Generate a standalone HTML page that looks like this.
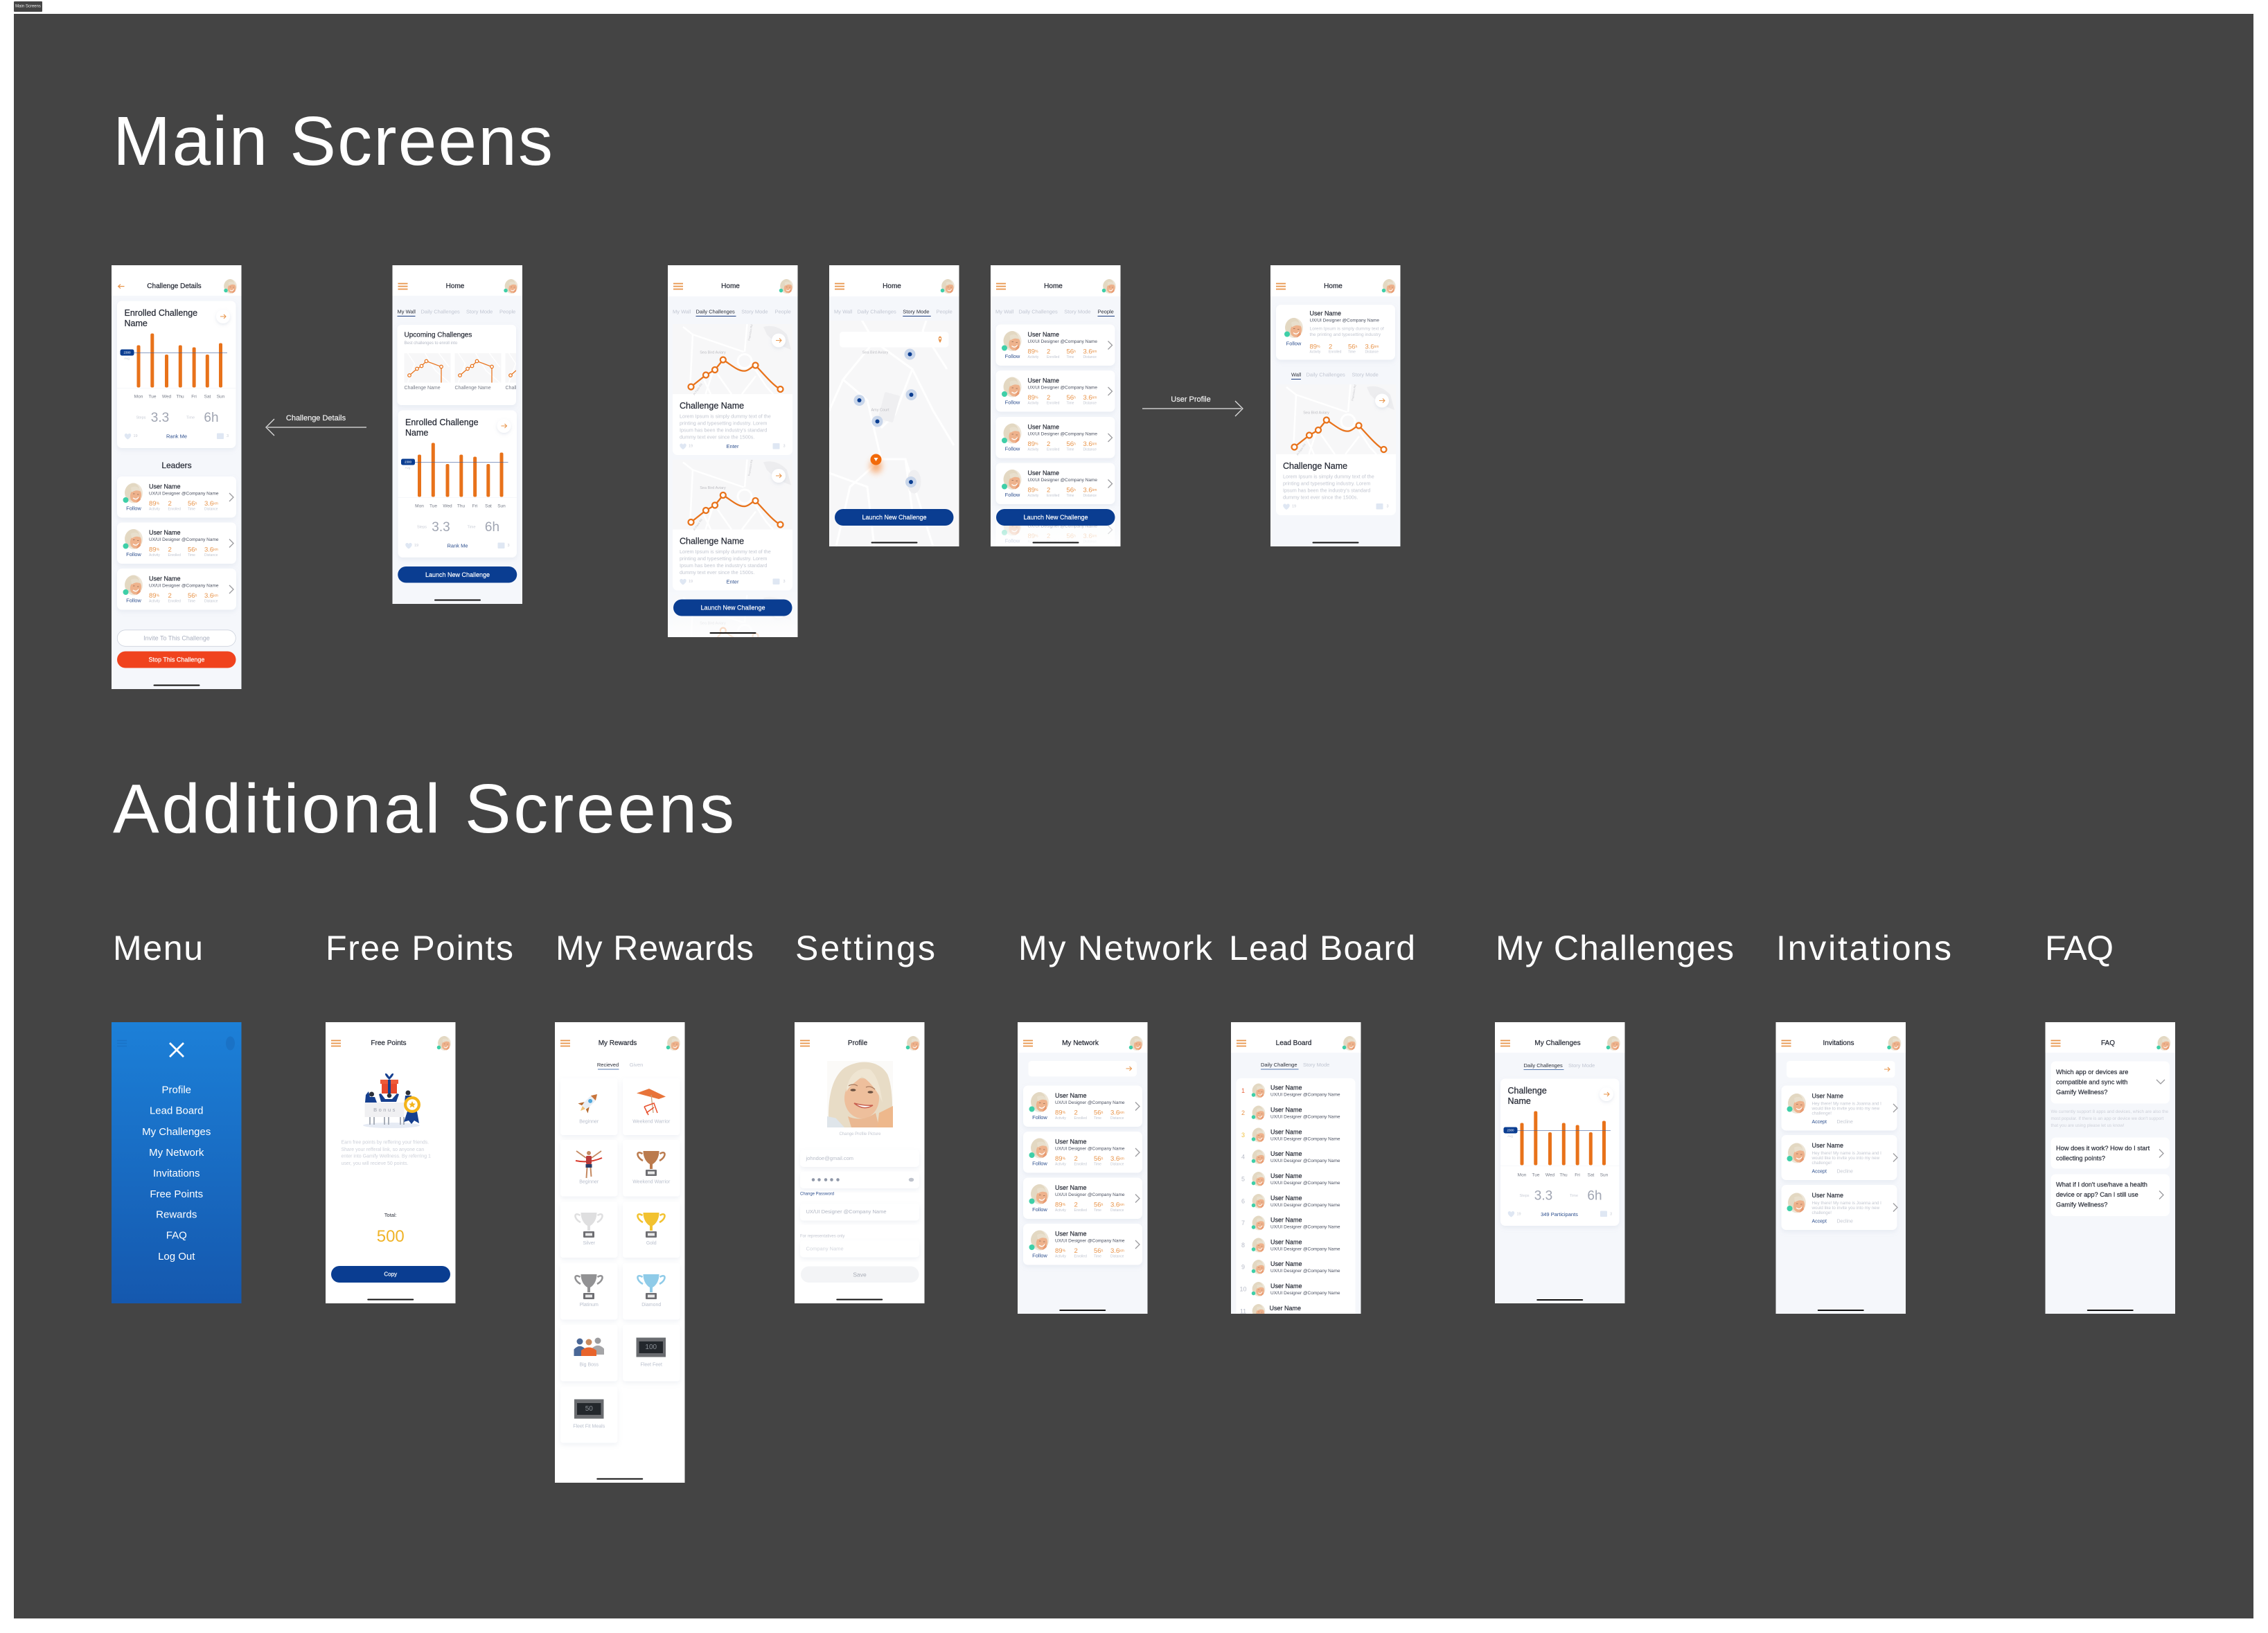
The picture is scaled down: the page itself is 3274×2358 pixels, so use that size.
<!DOCTYPE html>
<html lang="en">
<head>
<meta charset="utf-8">
<title>Main Screens</title>
<style>
html,body{margin:0;padding:0;background:#fff;width:3274px;height:2358px;overflow:hidden}
svg{display:block}
text{font-family:"Liberation Sans",sans-serif;dominant-baseline:central}
.H{fill:#fff;font-size:100px;dominant-baseline:auto}
.H2{fill:#fff;font-size:50px;dominant-baseline:auto}
.m{text-anchor:middle}
.T{font-size:20px;fill:#2b2f3a;text-anchor:middle;stroke:#2b2f3a;stroke-width:.5px}
.t{font-size:15px;fill:#c1c6d2}
.ta{font-size:15px;fill:#2b2f3a}
.n{font-size:18px;fill:#2b2f3a;stroke:#2b2f3a;stroke-width:.45px}
.d{font-size:13px;fill:#4a5060}
.o{font-size:19px;fill:#e8944a}
.u{font-size:10px}
.l{font-size:10px;fill:#c0c5d0}
.f{font-size:15px;fill:#2d4f8e;text-anchor:middle}
.ct{font-size:25px;fill:#2b2f3a;stroke:#2b2f3a;stroke-width:.55px}
.day{font-size:13px;fill:#777c88;text-anchor:middle}
.sm{font-size:11px;fill:#c8ccd6;text-anchor:middle}
.big{font-size:38px;fill:#a0a5b2;text-anchor:middle}
.lk{font-size:15px;fill:#2d4f8e;text-anchor:middle}
.lo{font-size:14.5px;fill:#c3c7d1}
.btn{font-size:18px;fill:#fff;text-anchor:middle;stroke:#fff;stroke-width:.35px}
.map{font-size:11px;fill:#bdbdc2;text-anchor:middle}
.rd{font-size:8px;fill:#c6c6ca;text-anchor:middle}
.mn{font-size:30px;fill:#fff;text-anchor:middle}
.rw{font-size:14px;fill:#b9bfcc;text-anchor:middle}
.fq{font-size:18.5px;fill:#2b2f3a;stroke:#2b2f3a;stroke-width:.4px}
.fg{font-size:12.7px;fill:#cdd0d9}
.inv{font-size:12.5px;fill:#c3c7d1}
.lb{font-size:18px;text-anchor:middle}
</style>
</head>
<body>
<svg xmlns="http://www.w3.org/2000/svg" width="3274" height="2358" viewBox="0 0 3274 2358">
<defs>
<filter id="sh" x="-15%" y="-15%" width="130%" height="140%"><feDropShadow dx="0" dy="6" stdDeviation="7" flood-color="#9fabc4" flood-opacity=".16"/></filter>
<filter id="sb" x="-60%" y="-60%" width="220%" height="220%"><feDropShadow dx="0" dy="4" stdDeviation="5" flood-color="#9fabc4" flood-opacity=".25"/></filter>
<filter id="gl" x="-100%" y="-100%" width="300%" height="300%"><feGaussianBlur stdDeviation="9"/></filter>
<linearGradient id="menu" x1="0" y1="0" x2="0" y2="1"><stop offset="0" stop-color="#1c80d8"/><stop offset="1" stop-color="#1558ae"/></linearGradient>
<linearGradient id="fd" x1="0" y1="0" x2="0" y2="1"><stop offset="0" stop-color="#f7f9fc" stop-opacity=".35"/><stop offset="1" stop-color="#fff" stop-opacity=".85"/></linearGradient>
<clipPath id="avc"><ellipse rx="26" ry="29"/></clipPath>
<g id="av"><g clip-path="url(#avc)"><rect x="-28" y="-30" width="56" height="60" fill="#eee6d8"/><ellipse cx="-4" cy="-4" rx="22" ry="26" fill="#e3d8c2"/><ellipse cx="6" cy="7" rx="16" ry="20" fill="#eeb28c" transform="rotate(12 6 7)"/><path d="M-8 -16Q12 -26 22 -4Q8 -12 -6 -2Z" fill="#e8dfcd"/><path d="M-2 14Q7 22 15 11" stroke="#fff" stroke-width="2.600" fill="none"/><path d="M-2 2H3M10 4H15" stroke="#a87a60" stroke-width="1.800"/><path d="M16 10L26 30H6Z" fill="#e89a70"/></g></g>
<g id="dot"><circle r="8" fill="#3ecfa8"/></g>
<g id="hb"><path d="M16 53H44M16 61H44M16 69H44" stroke="#e8944a" stroke-width="3.400"/></g>
<g id="hd"><use href="#hb"/><use href="#av" transform="translate(343,61) scale(.72)"/><circle cx="327" cy="73" r="5.500" fill="#3ecfa8"/></g>
<g id="cv"><path d="M-6 -12L6 0L-6 12" stroke="#9a9a9e" stroke-width="2.600" fill="none"/></g>
<g id="ar"><path d="M-8 0H8M2 -6L8 0L2 6" stroke="#e8944a" stroke-width="2.200" fill="none"/></g>
<g id="ab"><circle r="20" fill="#fff" filter="url(#sb)"/><use href="#ar"/></g>
<g id="ht"><path d="M0 9C-14 0 -10 -9 -4 -8C-2 -8 -1 -6 0 -5C1 -6 2 -8 4 -8C10 -9 14 0 0 9Z" fill="#dfe7f3"/></g>
<g id="cm"><rect x="-10" y="-9" width="20" height="17" rx="2" fill="#dfe7f3"/></g>
<g id="hi"><rect x="-67" y="-2" width="134" height="4" rx="2" fill="#111"/></g>
<g id="uc"><rect width="344" height="119" rx="14" fill="#fff" filter="url(#sh)"/><use href="#av" transform="translate(48,48)"/><use href="#dot" transform="translate(25,68)"/><use href="#cv" transform="translate(330,60)"/></g>
<g id="ec"><rect x="16" y="103" width="343" height="425" rx="14" fill="#fff" filter="url(#sh)"/>
<use href="#ab" transform="translate(322,148)"/>
<g fill="#e8721a"><rect x="73" y="231" width="10" height="122" rx="4"/><rect x="112.600" y="197" width="10" height="156" rx="4"/><rect x="154" y="258" width="10" height="95" rx="4"/><rect x="193.600" y="231" width="10" height="122" rx="4"/><rect x="233.300" y="237" width="10" height="116" rx="4"/><rect x="271.600" y="258" width="10" height="95" rx="4"/><rect x="310" y="225" width="10" height="128" rx="4"/></g>
<rect x="60" y="252.500" width="274" height="1.200" fill="#3f5f9c"/><rect x="25" y="243" width="40" height="18" rx="5" fill="#0a3d91"/>
<rect x="16" y="355" width="343" height="1" fill="#eef0f4"/>
<use href="#ht" transform="translate(47,494)"/><use href="#cm" transform="translate(314,494)"/></g>
<g id="mp"><rect width="346" height="202" fill="#f7f7f8"/><path d="M262 8Q300 -2 330 30L342 74Q300 60 272 30Z" fill="#ededef"/><path d="M30 8L58 30L50 190M58 30L205 80M225 110L270 180L290 202M130 145L170 202M90 160L110 202M215 0L208 80M120 125L95 202M240 150L200 202" stroke="#fff" stroke-width="5" fill="none"/><circle cx="208" cy="107" r="20" fill="none" stroke="#fff" stroke-width="6"/>
<path d="M53 181L96 147L122 132L145.600 103C170 118 190 138 210 135C222 133 228 122 239 119C255 135 290 178 311 188" fill="none" stroke="#e8721a" stroke-width="4.500"/>
<g fill="#fff" stroke="#e8721a" stroke-width="4.500"><circle cx="53" cy="181" r="8"/><circle cx="96" cy="147" r="8"/><circle cx="122" cy="132" r="8"/><circle cx="145.600" cy="103" r="8"/><circle cx="239" cy="119" r="8"/><circle cx="311" cy="188" r="8"/></g>
<use href="#ab" transform="translate(306,47)"/></g>
<g id="mc"><use href="#mp"/><path d="M0 202H346V364A14 14 0 0 1 332 378H14A14 14 0 0 1 0 364Z" fill="#fff"/><use href="#ht" transform="translate(30,353)"/><use href="#cm" transform="translate(299,353)"/></g>
<g id="mm"><rect width="134" height="85" fill="#f7f7f8"/><path d="M10 0L30 30L10 85M60 0L90 50L130 85M100 0L130 40" stroke="#fff" stroke-width="3" fill="none"/><path d="M15 64L37 45L50 37L64 23L107 39V85" fill="none" stroke="#e8721a" stroke-width="2.500"/><g fill="#fff" stroke="#e8721a" stroke-width="2.500"><circle cx="15" cy="64" r="4.500"/><circle cx="37" cy="45" r="4.500"/><circle cx="50" cy="37" r="4.500"/><circle cx="64" cy="23" r="4.500"/><circle cx="107" cy="39" r="4.500"/></g></g>
<g id="tr"><path d="M-25 8C-44 -4 -44 18 -24 28M25 8C44 -4 44 18 24 28" stroke="currentColor" stroke-width="5" fill="none"/><path d="M-23 0H23C23 18 15 32 4 38V52H-4V38C-15 32 -23 18 -23 0Z" fill="currentColor"/><rect x="-16" y="54" width="32" height="18" rx="2" fill="#6e6e72"/><rect x="-10" y="59" width="20" height="8" fill="#e9e9e9"/></g>
<g id="dp"><rect width="85" height="56" fill="#6a6c70"/><rect x="8" y="11" width="69" height="34" fill="#23272c"/></g>
<g id="pn"><circle r="16" fill="#c9d6ea"/><circle r="6" fill="#0a3d91"/></g>
<g id="sf"><rect width="344" height="49" rx="10" fill="#fff" filter="url(#sh)"/></g>
</defs>

<rect x="20" y="20" width="3233" height="2317" fill="#444444"/>
<rect x="20" y="2" width="41" height="15" rx="1" fill="#444444"/>
<text x="40.500" y="9.500" class="m" style="font-size:6px;fill:#eee">Main Screens</text>

<text x="163" y="238" class="H" textLength="635">Main Screens</text>
<text x="163" y="1202" class="H" textLength="897">Additional Screens</text>
<text x="163" y="1386" class="H2" textLength="130">Menu</text>
<text x="470" y="1386" class="H2" textLength="271">Free Points</text>
<text x="802" y="1386" class="H2" textLength="286">My Rewards</text>
<text x="1148" y="1386" class="H2" textLength="202">Settings</text>
<text x="1470" y="1386" class="H2" textLength="280">My Network</text>
<text x="1774" y="1386" class="H2" textLength="269">Lead Board</text>
<text x="2159" y="1386" class="H2" textLength="344">My Challenges</text>
<text x="2564" y="1386" class="H2" textLength="253">Invitations</text>
<text x="2952" y="1386" class="H2" textLength="99">FAQ</text>

<!-- connectors -->
<path d="M386 617H529" stroke="#a8a8a8" stroke-width="2"/><path d="M396 605L384 617L396 629" stroke="#ddd" stroke-width="1.300" fill="none"/>
<text x="456" y="604" class="m" style="font-size:11px;fill:#eee;stroke:#eee;stroke-width:.2px">Challenge Details</text>
<path d="M1649 590H1792" stroke="#a8a8a8" stroke-width="2"/><path d="M1783 579L1794 590L1783 601" stroke="#ddd" stroke-width="1.300" fill="none"/>
<text x="1719" y="577" class="m" style="font-size:11px;fill:#eee;stroke:#eee;stroke-width:.2px">User Profile</text>

<!-- Screen 1: Challenge Details -->
<svg x="161" y="383" width="187.500" height="612" viewBox="0 0 375 1224">
<rect width="375" height="1224" fill="#f5f7fb"/><rect width="375" height="88" fill="#fff"/>
<path d="M30 61H14M20 55L14 61L20 67" transform="translate(4,0) scale(1.1 1)" stroke="#e8944a" stroke-width="2.400" fill="none"/>
<use href="#av" transform="translate(343,61) scale(.72)"/><circle cx="330" cy="73" r="5.500" fill="#3ecfa8"/>
<text x="181" y="61" class="T">Challenge Details</text>
<use href="#ec"/>
<text x="37" y="138" class="ct">Enrolled Challenge</text><text x="37" y="168" class="ct">Name</text>
<text x="45" y="252" style="font-size:9px;fill:#fff" class="m">2300</text><text x="44" y="269" class="sm" style="font-size:9px">Avg</text>
<text x="78" y="380" class="day">Mon</text><text x="118" y="380" class="day">Tue</text><text x="159" y="380" class="day">Wed</text><text x="198" y="380" class="day">Thu</text><text x="238" y="380" class="day">Fri</text><text x="277" y="380" class="day">Sat</text><text x="315" y="380" class="day">Sun</text>
<text x="85" y="441" class="sm">Steps</text><text x="140" y="441" class="big">3.3</text><text x="228" y="441" class="sm">Time</text><text x="288" y="441" class="big">6h</text>
<text x="69" y="494" class="sm">19</text><text x="188" y="494" class="lk">Rank Me</text><text x="335" y="494" class="sm">3</text>
<text x="188" y="578" class="m" style="font-size:24px;fill:#2b2f3a;stroke:#2b2f3a;stroke-width:.5px">Leaders</text>
<g transform="translate(16,610)"><use href="#uc"/><text x="92" y="29" class="n">User Name</text><text x="92" y="50" class="d">UX/UI Designer @Company Name</text><text x="48" y="92" class="f">Follow</text><text x="92" y="79" class="o">89<tspan class="u">%</tspan></text><text x="147" y="79" class="o">2</text><text x="204" y="79" class="o">56<tspan class="u">h</tspan></text><text x="252" y="79" class="o">3.6<tspan class="u">km</tspan></text><text x="92" y="95" class="l">Activity</text><text x="147" y="95" class="l">Enrolled</text><text x="204" y="95" class="l">Time</text><text x="252" y="95" class="l">Distance</text></g>
<g transform="translate(16,743)"><use href="#uc"/><text x="92" y="29" class="n">User Name</text><text x="92" y="50" class="d">UX/UI Designer @Company Name</text><text x="48" y="92" class="f">Follow</text><text x="92" y="79" class="o">89<tspan class="u">%</tspan></text><text x="147" y="79" class="o">2</text><text x="204" y="79" class="o">56<tspan class="u">h</tspan></text><text x="252" y="79" class="o">3.6<tspan class="u">km</tspan></text><text x="92" y="95" class="l">Activity</text><text x="147" y="95" class="l">Enrolled</text><text x="204" y="95" class="l">Time</text><text x="252" y="95" class="l">Distance</text></g>
<g transform="translate(16,876)"><use href="#uc"/><text x="92" y="29" class="n">User Name</text><text x="92" y="50" class="d">UX/UI Designer @Company Name</text><text x="48" y="92" class="f">Follow</text><text x="92" y="79" class="o">89<tspan class="u">%</tspan></text><text x="147" y="79" class="o">2</text><text x="204" y="79" class="o">56<tspan class="u">h</tspan></text><text x="252" y="79" class="o">3.6<tspan class="u">km</tspan></text><text x="92" y="95" class="l">Activity</text><text x="147" y="95" class="l">Enrolled</text><text x="204" y="95" class="l">Time</text><text x="252" y="95" class="l">Distance</text></g>
<rect x="16.500" y="1053.500" width="342" height="47" rx="23.500" fill="#fff" stroke="#c6ccd8" stroke-width="1.400"/>
<text x="188" y="1077" class="m" style="font-size:18px;fill:#aab0c0">Invite To This Challenge</text>
<rect x="16" y="1115" width="343" height="48" rx="24" fill="#f0431e"/>
<text x="188" y="1139" class="btn">Stop This Challenge</text>
<use href="#hi" transform="translate(188,1213)"/>
</svg>

<!-- Screen 2: Home / My Wall -->
<svg x="566.500" y="383" width="187.500" height="489" viewBox="0 0 375 978">
<rect width="375" height="978" fill="#f5f7fb"/><rect width="375" height="88" fill="#fff"/><use href="#hd"/>
<text x="181" y="61" class="T">Home</text>
<text x="14" y="134" class="ta">My Wall</text><text x="82" y="134" class="t">Daily Challenges</text><text x="213" y="134" class="t">Story Mode</text><text x="309" y="134" class="t">People</text>
<rect x="14" y="146" width="52" height="2" fill="#1f3f80"/>
<rect x="14" y="172" width="343" height="232" rx="12" fill="#fff" filter="url(#sh)"/>
<text x="34" y="202" class="n" style="font-size:20px">Upcoming Challenges</text>
<text x="34" y="226" style="font-size:12px;fill:#b5bac6">Best challenges to enroll into</text>
<use href="#mm" transform="translate(34,254)"/><use href="#mm" transform="translate(180,254)"/>
<svg x="326" y="254" width="31" height="85" viewBox="0 0 31 85"><use href="#mm"/></svg>
<text x="34" y="355" style="font-size:14px;fill:#777c88">Challenge Name</text><text x="180" y="355" style="font-size:14px;fill:#777c88">Challenge Name</text>
<svg x="326" y="345" width="31" height="20" viewBox="0 0 31 20"><text x="0" y="10" style="font-size:14px;fill:#777c88">Challenge</text></svg>
<g transform="translate(0,316)"><use href="#ec"/>
<text x="37" y="138" class="ct">Enrolled Challenge</text><text x="37" y="168" class="ct">Name</text>
<text x="45" y="252" style="font-size:9px;fill:#fff" class="m">2300</text><text x="44" y="269" class="sm" style="font-size:9px">Avg</text>
<text x="78" y="380" class="day">Mon</text><text x="118" y="380" class="day">Tue</text><text x="159" y="380" class="day">Wed</text><text x="198" y="380" class="day">Thu</text><text x="238" y="380" class="day">Fri</text><text x="277" y="380" class="day">Sat</text><text x="315" y="380" class="day">Sun</text>
<text x="85" y="441" class="sm">Steps</text><text x="140" y="441" class="big">3.3</text><text x="228" y="441" class="sm">Time</text><text x="288" y="441" class="big">6h</text>
<text x="69" y="494" class="sm">19</text><text x="188" y="494" class="lk">Rank Me</text><text x="335" y="494" class="sm">3</text></g>
<rect x="15.500" y="870" width="344" height="47" rx="23.500" fill="#0a3d91"/>
<text x="188" y="893.500" class="btn">Launch New Challenge</text>
<use href="#hi" transform="translate(188,967)"/>
</svg>

<!-- Screen 3: Daily Challenges -->
<svg x="964" y="383" width="187.500" height="537" viewBox="0 0 375 1074">
<rect width="375" height="1074" fill="#f5f7fb"/><rect width="375" height="90" fill="#fff"/><use href="#hd"/>
<text x="181" y="61" class="T">Home</text>
<text x="14" y="134" class="t">My Wall</text><text x="81" y="134" class="ta">Daily Challenges</text><text x="212.500" y="134" class="t">Story Mode</text><text x="309" y="134" class="t">People</text>
<rect x="81" y="146" width="116" height="2" fill="#1f3f80"/>
<g transform="translate(14,170)"><use href="#mc"/><text x="116" y="83" class="map">Sea Bird Aviary</text><text x="224" y="24" class="rd" transform="rotate(-80 224 24)">Francisco Rd</text><text x="72" y="188" class="rd" transform="rotate(-55 72 188)">Al Pass Rd</text><text x="20" y="236" class="ct">Challenge Name</text><text x="20" y="266" class="lo">Lorem Ipsum is simply dummy text of the</text><text x="20" y="286" class="lo">printing and typesetting industry. Lorem</text><text x="20" y="306" class="lo">Ipsum has been the industry's standard</text><text x="20" y="326" class="lo">dummy text ever since the 1500s.</text><text x="52" y="353" class="sm">19</text><text x="173" y="353" class="lk">Enter</text><text x="322" y="353" class="sm">3</text></g>
<g transform="translate(14,561)"><use href="#mc"/><text x="116" y="83" class="map">Sea Bird Aviary</text><text x="224" y="24" class="rd" transform="rotate(-80 224 24)">Francisco Rd</text><text x="72" y="188" class="rd" transform="rotate(-55 72 188)">Al Pass Rd</text><text x="20" y="236" class="ct">Challenge Name</text><text x="20" y="266" class="lo">Lorem Ipsum is simply dummy text of the</text><text x="20" y="286" class="lo">printing and typesetting industry. Lorem</text><text x="20" y="306" class="lo">Ipsum has been the industry's standard</text><text x="20" y="326" class="lo">dummy text ever since the 1500s.</text><text x="52" y="353" class="sm">19</text><text x="173" y="353" class="lk">Enter</text><text x="322" y="353" class="sm">3</text></g>
<g transform="translate(14,952)"><use href="#mp"/><text x="116" y="83" class="map">Sea Bird Aviary</text></g>
<rect y="945" width="375" height="129" fill="url(#fd)"/>
<rect x="16" y="965" width="343" height="48" rx="24" fill="#0a3d91"/>
<text x="188" y="989" class="btn">Launch New Challenge</text>
<use href="#hi" transform="translate(188,1062)"/>
</svg>

<!-- Screen 4: Story Mode -->
<svg x="1197" y="383" width="187.500" height="406" viewBox="0 0 375 812">
<rect width="375" height="812" fill="#f7f7f8"/>
<path d="M60 100L130 220L40 330L0 420M130 220L240 300L300 420L360 520M40 330L110 390L150 560L60 640L20 812M150 560L220 560L240 710M240 300L190 430L150 470M0 600L110 640L130 812M300 100L270 190L340 300M220 560L300 812" stroke="#fff" stroke-width="6" fill="none"/>
<rect x="150" y="370" width="45" height="80" rx="4" fill="#efeff1" transform="rotate(15 172 410)"/>
<ellipse cx="245" cy="625" rx="20" ry="34" fill="#efeff1"/>
<rect width="375" height="90" fill="#fff"/><rect y="90" width="375" height="70" fill="#f5f7fb"/><use href="#hd"/>
<text x="181" y="61" class="T">Home</text>
<text x="14" y="134" class="t">My Wall</text><text x="81" y="134" class="t">Daily Challenges</text><text x="212.500" y="134" class="ta">Story Mode</text><text x="309" y="134" class="t">People</text>
<rect x="212.500" y="146" width="81" height="2" fill="#1f3f80"/>
<rect x="30" y="192" width="315" height="45" rx="9" fill="#fff"/>
<path d="M320 224C314 216 314 206 320 205C326 206 326 216 320 224Z" fill="#e8944a"/><circle cx="320" cy="212" r="2.500" fill="#fff"/>
<text x="133" y="253" class="map">Sea Bird Aviary</text><text x="147" y="419" class="map">Amy Court</text>
<use href="#pn" transform="translate(233,257)"/><use href="#pn" transform="translate(237,374)"/><use href="#pn" transform="translate(87,390)"/><use href="#pn" transform="translate(139,451)"/><use href="#pn" transform="translate(236,626)"/>
<ellipse cx="135" cy="580" rx="17" ry="20" fill="#f98a3a" opacity=".65" filter="url(#gl)"/>
<circle cx="135" cy="561" r="16" fill="#f26a0a"/><path d="M129 556L141 556L135 566Z" fill="#fff"/>
<rect x="16" y="704" width="343" height="48" rx="24" fill="#0a3d91"/>
<text x="188" y="728" class="btn">Launch New Challenge</text>
<use href="#hi" transform="translate(188,801)"/>
</svg>

<!-- Screen 5: People -->
<svg x="1430" y="383" width="187.500" height="406" viewBox="0 0 375 812">
<rect width="375" height="812" fill="#f5f7fb"/><rect width="375" height="90" fill="#fff"/><use href="#hd"/>
<text x="181" y="61" class="T">Home</text>
<text x="14" y="134" class="t">My Wall</text><text x="81" y="134" class="t">Daily Challenges</text><text x="212.500" y="134" class="t">Story Mode</text><text x="309" y="134" class="ta">People</text>
<rect x="309" y="146" width="49" height="2" fill="#1f3f80"/>
<g transform="translate(15,171)"><use href="#uc"/><text x="92" y="29" class="n">User Name</text><text x="92" y="50" class="d">UX/UI Designer @Company Name</text><text x="48" y="92" class="f">Follow</text><text x="92" y="79" class="o">89<tspan class="u">%</tspan></text><text x="147" y="79" class="o">2</text><text x="204" y="79" class="o">56<tspan class="u">h</tspan></text><text x="252" y="79" class="o">3.6<tspan class="u">km</tspan></text><text x="92" y="95" class="l">Activity</text><text x="147" y="95" class="l">Enrolled</text><text x="204" y="95" class="l">Time</text><text x="252" y="95" class="l">Distance</text></g>
<g transform="translate(15,304)"><use href="#uc"/><text x="92" y="29" class="n">User Name</text><text x="92" y="50" class="d">UX/UI Designer @Company Name</text><text x="48" y="92" class="f">Follow</text><text x="92" y="79" class="o">89<tspan class="u">%</tspan></text><text x="147" y="79" class="o">2</text><text x="204" y="79" class="o">56<tspan class="u">h</tspan></text><text x="252" y="79" class="o">3.6<tspan class="u">km</tspan></text><text x="92" y="95" class="l">Activity</text><text x="147" y="95" class="l">Enrolled</text><text x="204" y="95" class="l">Time</text><text x="252" y="95" class="l">Distance</text></g>
<g transform="translate(15,438)"><use href="#uc"/><text x="92" y="29" class="n">User Name</text><text x="92" y="50" class="d">UX/UI Designer @Company Name</text><text x="48" y="92" class="f">Follow</text><text x="92" y="79" class="o">89<tspan class="u">%</tspan></text><text x="147" y="79" class="o">2</text><text x="204" y="79" class="o">56<tspan class="u">h</tspan></text><text x="252" y="79" class="o">3.6<tspan class="u">km</tspan></text><text x="92" y="95" class="l">Activity</text><text x="147" y="95" class="l">Enrolled</text><text x="204" y="95" class="l">Time</text><text x="252" y="95" class="l">Distance</text></g>
<g transform="translate(15,571)"><use href="#uc"/><text x="92" y="29" class="n">User Name</text><text x="92" y="50" class="d">UX/UI Designer @Company Name</text><text x="48" y="92" class="f">Follow</text><text x="92" y="79" class="o">89<tspan class="u">%</tspan></text><text x="147" y="79" class="o">2</text><text x="204" y="79" class="o">56<tspan class="u">h</tspan></text><text x="252" y="79" class="o">3.6<tspan class="u">km</tspan></text><text x="92" y="95" class="l">Activity</text><text x="147" y="95" class="l">Enrolled</text><text x="204" y="95" class="l">Time</text><text x="252" y="95" class="l">Distance</text></g>
<g transform="translate(15,704)"><use href="#uc"/><text x="92" y="29" class="n">User Name</text><text x="92" y="50" class="d">UX/UI Designer @Company Name</text><text x="48" y="92" class="f">Follow</text><text x="92" y="79" class="o">89<tspan class="u">%</tspan></text><text x="147" y="79" class="o">2</text><text x="204" y="79" class="o">56<tspan class="u">h</tspan></text><text x="252" y="79" class="o">3.6<tspan class="u">km</tspan></text><text x="92" y="95" class="l">Activity</text><text x="147" y="95" class="l">Enrolled</text><text x="204" y="95" class="l">Time</text><text x="252" y="95" class="l">Distance</text></g>
<rect y="695" width="375" height="117" fill="url(#fd)"/>
<rect x="16" y="704" width="343" height="48" rx="24" fill="#0a3d91"/>
<text x="188" y="728" class="btn">Launch New Challenge</text>
<use href="#hi" transform="translate(188,801)"/>
</svg>

<!-- Screen 6: User Profile -->
<svg x="1834" y="383" width="187.500" height="406" viewBox="0 0 375 812">
<rect width="375" height="812" fill="#f5f7fb"/><rect width="375" height="90" fill="#fff"/><use href="#hd"/>
<text x="181" y="61" class="T">Home</text>
<rect x="16" y="114" width="344" height="159" rx="14" fill="#fff" filter="url(#sh)"/>
<use href="#av" transform="translate(68,181)"/><use href="#dot" transform="translate(48,199)"/>
<text x="67" y="226" class="f">Follow</text><text x="113" y="139" class="n">User Name</text><text x="113" y="160" class="d">UX/UI Designer @Company Name</text>
<text x="113" y="184" style="font-size:13px;fill:#c3c7d1">Lorem Ipsum is simply dummy text of</text><text x="113" y="201" style="font-size:13px;fill:#c3c7d1">the printing and typesetting industry</text>
<text x="113" y="236" class="o">89<tspan class="u">%</tspan></text><text x="168" y="236" class="o">2</text><text x="224" y="236" class="o">56<tspan class="u">h</tspan></text><text x="273" y="236" class="o">3.6<tspan class="u">km</tspan></text>
<text x="113" y="251" class="l">Activity</text><text x="168" y="251" class="l">Enrolled</text><text x="224" y="251" class="l">Time</text><text x="273" y="251" class="l">Distance</text>
<text x="60" y="316" class="ta">Wall</text><text x="103" y="316" class="t">Daily Challenges</text><text x="235" y="316" class="t">Story Mode</text>
<rect x="60" y="328" width="28" height="2" fill="#1f3f80"/>
<g transform="translate(16,344)"><use href="#mc"/><text x="116" y="83" class="map">Sea Bird Aviary</text><text x="224" y="24" class="rd" transform="rotate(-80 224 24)">Francisco Rd</text><text x="72" y="188" class="rd" transform="rotate(-55 72 188)">Al Pass Rd</text><text x="20" y="236" class="ct">Challenge Name</text><text x="20" y="266" class="lo">Lorem Ipsum is simply dummy text of the</text><text x="20" y="286" class="lo">printing and typesetting industry. Lorem</text><text x="20" y="306" class="lo">Ipsum has been the industry's standard</text><text x="20" y="326" class="lo">dummy text ever since the 1500s.</text><text x="52" y="353" class="sm">19</text><text x="322" y="353" class="sm">3</text></g>
<use href="#hi" transform="translate(188,801)"/>
</svg>

<!-- Menu -->
<svg x="161" y="1476" width="187.500" height="406" viewBox="0 0 375 812">
<rect width="375" height="812" fill="url(#menu)"/>
<path d="M16 53H44M16 61H44M16 69H44" stroke="#1a72c6" stroke-width="3"/><ellipse cx="343" cy="61" rx="13" ry="20" fill="#1a72c6"/>
<path d="M168 60L208 100M208 60L168 100" stroke="#fff" stroke-width="5.500"/>
<text x="187.500" y="196" class="mn">Profile</text><text x="187.500" y="256" class="mn">Lead Board</text><text x="187.500" y="317" class="mn">My Challenges</text><text x="187.500" y="377" class="mn">My Network</text><text x="187.500" y="437" class="mn">Invitations</text><text x="187.500" y="497" class="mn">Free Points</text><text x="187.500" y="556" class="mn">Rewards</text><text x="187.500" y="616" class="mn">FAQ</text><text x="187.500" y="677" class="mn">Log Out</text>
</svg>

<!-- Free Points -->
<svg x="470" y="1476" width="187.500" height="406" viewBox="0 0 375 812">
<rect width="375" height="812" fill="#fff"/><use href="#hd"/>
<text x="182" y="61" class="T">Free Points</text>
<ellipse cx="190" cy="298" rx="82" ry="8" fill="#e6ebf4"/>
<rect x="162" y="174" width="44" height="32" fill="#e8492c"/><rect x="158" y="166" width="52" height="12" fill="#ee5a38"/><rect x="180" y="166" width="8" height="40" fill="#153f8f"/><path d="M184 166C168 152 170 144 178 150L184 158L190 150C198 144 200 152 184 166Z" fill="#153f8f"/>
<path d="M114 232L116 210L124 200L128 216H142L148 232Z" fill="#153f8f"/><circle cx="133" cy="208" r="7" fill="#2b2f3a"/>
<path d="M160 230L154 208L160 206L172 222H192L206 206L212 208L204 230Z" fill="#153f8f"/><circle cx="184" cy="212" r="6.500" fill="#2b2f3a"/>
<path d="M228 232L230 212H248V232Z" fill="#153f8f"/><circle cx="238" cy="204" r="7" fill="#2b2f3a"/>
<rect x="113" y="232" width="114" height="42" fill="#f0f0f2"/>
<text x="172" y="253" class="m" style="font-size:15px;letter-spacing:5px;fill:#9ea2ad">Bonus</text>
<path d="M128 274V296M140 274V296M170 274V296M182 274V296M216 274V296M226 274V296" stroke="#a8aeb8" stroke-width="4"/>
<path d="M236 258L226 288L240 284L248 294L256 284L270 292L264 258Z" fill="#153f8f"/>
<circle cx="250" cy="238" r="24" fill="#f4b41a"/><circle cx="250" cy="238" r="15.500" fill="#fff"/><path d="M250 228L253 235L260 235.500L254.500 240L256.500 247L250 243L243.500 247L245.500 240L240 235.500L247 235Z" fill="#f4b41a"/>
<text x="45" y="348" class="fg" style="font-size:14px">Earn free points by reffering your friends.</text><text x="45" y="369" class="fg" style="font-size:14px">Share your refferal link, so anyone can</text><text x="45" y="388" class="fg" style="font-size:14px">enter into Gamify Wellness. By referring 1</text><text x="45" y="409" class="fg" style="font-size:14px">user, you will recieve 50 points.</text>
<text x="187.500" y="557" class="m" style="font-size:15px;fill:#2b2f3a">Total:</text>
<text x="187.500" y="619" class="m" style="font-size:48px;fill:#f0b429">500</text>
<rect x="16" y="704" width="344" height="48" rx="24" fill="#0a3d91"/>
<text x="187.500" y="728" class="btn" style="font-size:16px">Copy</text>
<use href="#hi" transform="translate(187.500,801)"/>
</svg>

<!-- My Rewards -->
<svg x="801" y="1476" width="187.500" height="665" viewBox="0 0 375 1330">
<rect width="375" height="1330" fill="#fff"/><use href="#hd"/>
<text x="181" y="61" class="T">My Rewards</text>
<text x="153" y="123" class="ta m">Recieved</text><text x="235" y="123" class="t m">Given</text>
<rect x="124" y="135" width="61" height="2" fill="#5679b0"/>
<g fill="#fff" filter="url(#sh)"><rect x="16" y="162" width="165" height="164" rx="8"/><rect x="196" y="162" width="165" height="164" rx="8"/><rect x="16" y="340" width="165" height="163" rx="8"/><rect x="196" y="340" width="165" height="163" rx="8"/><rect x="16" y="519" width="165" height="161" rx="8"/><rect x="196" y="519" width="165" height="161" rx="8"/><rect x="16" y="696" width="165" height="163" rx="8"/><rect x="196" y="696" width="165" height="163" rx="8"/><rect x="16" y="874" width="165" height="163" rx="8"/><rect x="196" y="874" width="165" height="163" rx="8"/><rect x="16" y="1053" width="165" height="162" rx="8"/></g>
<!-- rocket -->
<g transform="translate(98,232) rotate(45)"><rect x="-10" y="-22" width="20" height="42" rx="9" fill="#e8eef5"/><path d="M-10 -18L0 -34L10 -18Z" fill="#c8743a"/><circle r="6" cy="-6" fill="#4fa8dc"/><path d="M-10 8L-20 24L-8 20ZM10 8L20 24L8 20Z" fill="#b56a30"/><path d="M-6 20H6L0 34Z" fill="#f0c27a"/></g>
<!-- umbrella -->
<path d="M236 205L272 192L320 215L300 222L262 212Z" fill="#e8743a"/><path d="M278 210L284 262" stroke="#c6a27a" stroke-width="2.500"/><path d="M258 244L286 234L296 262M264 262L286 246M258 244L270 268" stroke="#e8502c" stroke-width="3" fill="none"/>
<!-- runner -->
<path d="M60 400Q98 408 136 392" stroke="#d8392b" stroke-width="4" fill="none"/><path d="M62 372L90 392M134 372L106 392" stroke="#c58a62" stroke-width="3.500"/><circle cx="98" cy="378" r="6" fill="#c58a62"/><rect x="90" y="386" width="16" height="24" rx="3" fill="#b93a3a"/><rect x="89" y="410" width="18" height="10" fill="#2b3d66"/><path d="M93 420L91 450M103 420L105 446" stroke="#c58a62" stroke-width="4"/>
<text x="98.500" y="288" class="rw">Beginner</text><text x="278.500" y="288" class="rw">Weekend Warrior</text>
<text x="98.500" y="462" class="rw">Beginner</text><text x="278.500" y="462" class="rw">Weekend Warrior</text>
<use href="#tr" transform="translate(278,372)" style="color:#bb7b4e"/>
<use href="#tr" transform="translate(98,550)" style="color:#dfdfe0"/><use href="#tr" transform="translate(278,550)" style="color:#f2c230"/>
<text x="98.500" y="639" class="rw">Silver</text><text x="278.500" y="639" class="rw">Gold</text>
<use href="#tr" transform="translate(98,728)" style="color:#929294"/><use href="#tr" transform="translate(278,728)" style="color:#8fcbe8"/>
<text x="98.500" y="817" class="rw">Platinum</text><text x="278.500" y="817" class="rw">Diamond</text>
<!-- big boss -->
<circle cx="72" cy="922" r="9" fill="#4a6796"/><path d="M55 964V945Q72 926 89 945V964Z" fill="#4a6796"/><circle cx="124" cy="920" r="9" fill="#9b9b9d"/><path d="M106 960V943Q124 924 142 943V960Z" fill="#a5a5a7"/><circle cx="98" cy="924" r="9" fill="#c98a5e"/><path d="M76 964V948Q98 930 120 948V964Z" fill="#e8642c"/>
<use href="#dp" transform="translate(235,911)"/><text x="277.500" y="939" class="m" style="font-size:20px;fill:#8a8f96">100</text>
<use href="#dp" transform="translate(56,1089)"/><text x="98.500" y="1117" class="m" style="font-size:20px;fill:#8a8f96">50</text>
<text x="98.500" y="990" class="rw">Big Boss</text><text x="278.500" y="990" class="rw">Fleet Feet</text><text x="98.500" y="1168" class="rw">Fleet Fit Meals</text>
<use href="#hi" transform="translate(187.500,1319)"/>
</svg>

<!-- Settings -->
<svg x="1147" y="1476" width="187.500" height="406" viewBox="0 0 375 812">
<rect width="375" height="812" fill="#fff"/><use href="#hd"/>
<text x="182" y="61" class="T">Profile</text>
<svg x="94" y="112" width="190" height="192" viewBox="0 0 190 192">
<rect width="190" height="192" fill="#fbfaf8"/>
<path d="M5 192C0 120 10 50 50 20C90 -5 150 -5 175 40C190 80 190 140 186 192Z" fill="#e8dcc6"/>
<ellipse cx="100" cy="108" rx="50" ry="58" fill="#eebf9c"/>
<path d="M55 90C60 40 90 15 125 25C150 50 155 90 160 120C145 85 120 55 100 45C85 60 65 70 55 90Z" fill="#efe5d2"/>
<path d="M62 72Q75 64 88 72M112 76Q125 70 138 82" stroke="#a77a5f" stroke-width="2.500" fill="none"/><ellipse cx="75" cy="84" rx="8" ry="3.500" fill="#6a5040"/><ellipse cx="125" cy="90" rx="8" ry="3.500" fill="#6a5040"/>
<path d="M78 122Q105 145 132 128Q105 130 78 122Z" fill="#fff" stroke="#c8604f" stroke-width="3"/>
<path d="M0 192V160L25 165L50 192Z" fill="#dfe5ea"/><path d="M60 160Q100 178 140 150L150 192H70Z" fill="#eab892"/><path d="M150 150L190 130V192H145Z" fill="#eeb88c"/>
</svg>
<text x="189" y="324" class="m" style="font-size:12px;fill:#c3c7d1">Change Profile Picture</text>
<use href="#sf" transform="translate(16,369)"/><text x="33" y="393" style="font-size:15px;fill:#b7bcc8">johndoe@gmail.com</text>
<use href="#sf" transform="translate(16,431)"/><g fill="#8f97a8"><circle cx="54" cy="455" r="4.500"/><circle cx="71" cy="455" r="4.500"/><circle cx="90" cy="455" r="4.500"/><circle cx="107" cy="455" r="4.500"/><circle cx="125" cy="455" r="4.500"/></g><ellipse cx="337" cy="455" rx="7.500" ry="5.500" fill="#bfc3cc"/>
<text x="16" y="497" style="font-size:12px;fill:#2d4f8e">Change Password</text>
<use href="#sf" transform="translate(16,524)"/><text x="33" y="547" style="font-size:15px;fill:#b0b5c2">UX/UI Designer @Company Name</text>
<text x="16" y="619" style="font-size:12px;fill:#c3c7d1">For representatives only</text>
<use href="#sf" transform="translate(16,630)"/><text x="33" y="654" style="font-size:15px;fill:#d3d6de">Company Name</text>
<rect x="18" y="705" width="341" height="47" rx="23.500" fill="#f3f4f6"/><text x="188" y="729" class="m" style="font-size:17px;fill:#a8acb6">Save</text>
<use href="#hi" transform="translate(187.500,801)"/>
</svg>

<!-- My Network -->
<svg x="1469" y="1476" width="187.500" height="421" viewBox="0 0 375 842">
<rect width="375" height="842" fill="#f5f7fb"/><rect width="375" height="88" fill="#fff"/><use href="#hd"/>
<text x="181" y="61" class="T">My Network</text>
<rect x="31" y="112" width="313" height="45" rx="9" fill="#fff"/><use href="#ar" transform="translate(321,134)"/>
<g transform="translate(16,183)"><use href="#uc"/><text x="92" y="29" class="n">User Name</text><text x="92" y="50" class="d">UX/UI Designer @Company Name</text><text x="48" y="92" class="f">Follow</text><text x="92" y="79" class="o">89<tspan class="u">%</tspan></text><text x="147" y="79" class="o">2</text><text x="204" y="79" class="o">56<tspan class="u">h</tspan></text><text x="252" y="79" class="o">3.6<tspan class="u">km</tspan></text><text x="92" y="95" class="l">Activity</text><text x="147" y="95" class="l">Enrolled</text><text x="204" y="95" class="l">Time</text><text x="252" y="95" class="l">Distance</text></g>
<g transform="translate(16,316)"><use href="#uc"/><text x="92" y="29" class="n">User Name</text><text x="92" y="50" class="d">UX/UI Designer @Company Name</text><text x="48" y="92" class="f">Follow</text><text x="92" y="79" class="o">89<tspan class="u">%</tspan></text><text x="147" y="79" class="o">2</text><text x="204" y="79" class="o">56<tspan class="u">h</tspan></text><text x="252" y="79" class="o">3.6<tspan class="u">km</tspan></text><text x="92" y="95" class="l">Activity</text><text x="147" y="95" class="l">Enrolled</text><text x="204" y="95" class="l">Time</text><text x="252" y="95" class="l">Distance</text></g>
<g transform="translate(16,449)"><use href="#uc"/><text x="92" y="29" class="n">User Name</text><text x="92" y="50" class="d">UX/UI Designer @Company Name</text><text x="48" y="92" class="f">Follow</text><text x="92" y="79" class="o">89<tspan class="u">%</tspan></text><text x="147" y="79" class="o">2</text><text x="204" y="79" class="o">56<tspan class="u">h</tspan></text><text x="252" y="79" class="o">3.6<tspan class="u">km</tspan></text><text x="92" y="95" class="l">Activity</text><text x="147" y="95" class="l">Enrolled</text><text x="204" y="95" class="l">Time</text><text x="252" y="95" class="l">Distance</text></g>
<g transform="translate(16,582)"><use href="#uc"/><text x="92" y="29" class="n">User Name</text><text x="92" y="50" class="d">UX/UI Designer @Company Name</text><text x="48" y="92" class="f">Follow</text><text x="92" y="79" class="o">89<tspan class="u">%</tspan></text><text x="147" y="79" class="o">2</text><text x="204" y="79" class="o">56<tspan class="u">h</tspan></text><text x="252" y="79" class="o">3.6<tspan class="u">km</tspan></text><text x="92" y="95" class="l">Activity</text><text x="147" y="95" class="l">Enrolled</text><text x="204" y="95" class="l">Time</text><text x="252" y="95" class="l">Distance</text></g>
<use href="#hi" transform="translate(187.500,832)"/>
</svg>

<!-- Lead Board -->
<svg x="1777" y="1476" width="187.500" height="421" viewBox="0 0 375 842">
<rect width="375" height="842" fill="#f5f7fb"/><rect width="375" height="88" fill="#fff"/><use href="#hd"/>
<text x="181" y="61" class="T">Lead Board</text>
<text x="86" y="123" class="ta">Daily Challenge</text><text x="208" y="123" class="t">Story Mode</text><rect x="86" y="135" width="109" height="2" fill="#5679b0"/>
<rect x="15" y="162" width="344" height="700" rx="14" fill="#fff"/>
<g transform="translate(0,189)"><text x="35" y="9" class="lb" style="fill:#e8643c">1</text><use href="#av" transform="translate(80,9) scale(.72)"/><circle cx="65" cy="21" r="5.500" fill="#3ecfa8"/><text x="114" y="0" class="n">User Name</text><text x="114" y="21" class="d">UX/UI Designer @Company Name</text></g>
<g transform="translate(0,253)"><text x="35" y="9" class="lb" style="fill:#e8944a">2</text><use href="#av" transform="translate(80,9) scale(.72)"/><circle cx="65" cy="21" r="5.500" fill="#3ecfa8"/><text x="114" y="0" class="n">User Name</text><text x="114" y="21" class="d">UX/UI Designer @Company Name</text></g>
<g transform="translate(0,317)"><text x="35" y="9" class="lb" style="fill:#f0c040">3</text><use href="#av" transform="translate(80,9) scale(.72)"/><circle cx="65" cy="21" r="5.500" fill="#3ecfa8"/><text x="114" y="0" class="n">User Name</text><text x="114" y="21" class="d">UX/UI Designer @Company Name</text></g>
<g transform="translate(0,380)"><text x="35" y="9" class="lb" style="fill:#b8bcc8">4</text><use href="#av" transform="translate(80,9) scale(.72)"/><circle cx="65" cy="21" r="5.500" fill="#3ecfa8"/><text x="114" y="0" class="n">User Name</text><text x="114" y="21" class="d">UX/UI Designer @Company Name</text></g>
<g transform="translate(0,444)"><text x="35" y="9" class="lb" style="fill:#b8bcc8">5</text><use href="#av" transform="translate(80,9) scale(.72)"/><circle cx="65" cy="21" r="5.500" fill="#3ecfa8"/><text x="114" y="0" class="n">User Name</text><text x="114" y="21" class="d">UX/UI Designer @Company Name</text></g>
<g transform="translate(0,508)"><text x="35" y="9" class="lb" style="fill:#b8bcc8">6</text><use href="#av" transform="translate(80,9) scale(.72)"/><circle cx="65" cy="21" r="5.500" fill="#3ecfa8"/><text x="114" y="0" class="n">User Name</text><text x="114" y="21" class="d">UX/UI Designer @Company Name</text></g>
<g transform="translate(0,571)"><text x="35" y="9" class="lb" style="fill:#b8bcc8">7</text><use href="#av" transform="translate(80,9) scale(.72)"/><circle cx="65" cy="21" r="5.500" fill="#3ecfa8"/><text x="114" y="0" class="n">User Name</text><text x="114" y="21" class="d">UX/UI Designer @Company Name</text></g>
<g transform="translate(0,635)"><text x="35" y="9" class="lb" style="fill:#b8bcc8">8</text><use href="#av" transform="translate(80,9) scale(.72)"/><circle cx="65" cy="21" r="5.500" fill="#3ecfa8"/><text x="114" y="0" class="n">User Name</text><text x="114" y="21" class="d">UX/UI Designer @Company Name</text></g>
<g transform="translate(0,698)"><text x="35" y="9" class="lb" style="fill:#b8bcc8">9</text><use href="#av" transform="translate(80,9) scale(.72)"/><circle cx="65" cy="21" r="5.500" fill="#3ecfa8"/><text x="114" y="0" class="n">User Name</text><text x="114" y="21" class="d">UX/UI Designer @Company Name</text></g>
<g transform="translate(0,762)"><text x="35" y="9" class="lb" style="fill:#b8bcc8">10</text><use href="#av" transform="translate(80,9) scale(.72)"/><circle cx="65" cy="21" r="5.500" fill="#3ecfa8"/><text x="114" y="0" class="n">User Name</text><text x="114" y="21" class="d">UX/UI Designer @Company Name</text></g>
<g transform="translate(0,826)"><text x="35" y="9" class="lb" style="fill:#b8bcc8">11</text><use href="#av" transform="translate(80,9) scale(.72)"/><text x="111" y="0" class="n">User Name</text></g>
</svg>

<!-- My Challenges -->
<svg x="2158" y="1476" width="187.500" height="406" viewBox="0 0 375 812">
<rect width="375" height="812" fill="#f5f7fb"/><rect width="375" height="88" fill="#fff"/><use href="#hd"/>
<text x="181" y="61" class="T">My Challenges</text>
<text x="83" y="125" class="ta">Daily Challenges</text><text x="212" y="125" class="t">Story Mode</text><rect x="83" y="136" width="116" height="2" fill="#5679b0"/>
<g transform="translate(0,60)"><use href="#ec"/>
<text x="37" y="138" class="ct">Challenge</text><text x="37" y="168" class="ct">Name</text>
<text x="45" y="252" style="font-size:9px;fill:#fff" class="m">2300</text><text x="44" y="269" class="sm" style="font-size:9px">Avg</text>
<text x="78" y="382" class="day">Mon</text><text x="118" y="382" class="day">Tue</text><text x="159" y="382" class="day">Wed</text><text x="198" y="382" class="day">Thu</text><text x="238" y="382" class="day">Fri</text><text x="277" y="382" class="day">Sat</text><text x="315" y="382" class="day">Sun</text>
<text x="85" y="442" class="sm">Steps</text><text x="140" y="442" class="big">3.3</text><text x="228" y="442" class="sm">Time</text><text x="288" y="442" class="big">6h</text>
<text x="69" y="495" class="sm">19</text><text x="186" y="495" class="lk">349 Participants</text><text x="335" y="495" class="sm">3</text></g>
<use href="#hi" transform="translate(187.500,802)"/>
</svg>

<!-- Invitations -->
<svg x="2563.500" y="1476" width="187.500" height="421" viewBox="0 0 375 842">
<rect width="375" height="842" fill="#f5f7fb"/><rect width="375" height="88" fill="#fff"/><use href="#hd"/>
<text x="181" y="61" class="T">Invitations</text>
<rect x="31" y="112" width="313" height="48" rx="9" fill="#fff"/><use href="#ar" transform="translate(321,136)"/>
<g transform="translate(16,183)"><rect width="334" height="130" rx="14" fill="#fff" filter="url(#sh)"/><use href="#av" transform="translate(45,52)"/><use href="#dot" transform="translate(24,68)"/><use href="#cv" transform="translate(329,65)"/><text x="88" y="30" class="n">User Name</text><text x="88" y="53" class="inv">Hey there! My name is Joanna and I</text><text x="88" y="67" class="inv">would like to invite you into my new</text><text x="88" y="81" class="inv">challenge!</text><text x="88" y="106" style="font-size:14px;fill:#2d4f8e">Accept</text><text x="160" y="106" style="font-size:14px;fill:#c3c7d1">Decline</text></g>
<g transform="translate(16,326)"><rect width="334" height="130" rx="14" fill="#fff" filter="url(#sh)"/><use href="#av" transform="translate(45,52)"/><use href="#dot" transform="translate(24,68)"/><use href="#cv" transform="translate(329,65)"/><text x="88" y="30" class="n">User Name</text><text x="88" y="53" class="inv">Hey there! My name is Joanna and I</text><text x="88" y="67" class="inv">would like to invite you into my new</text><text x="88" y="81" class="inv">challenge!</text><text x="88" y="106" style="font-size:14px;fill:#2d4f8e">Accept</text><text x="160" y="106" style="font-size:14px;fill:#c3c7d1">Decline</text></g>
<g transform="translate(16,470)"><rect width="334" height="130" rx="14" fill="#fff" filter="url(#sh)"/><use href="#av" transform="translate(45,52)"/><use href="#dot" transform="translate(24,68)"/><use href="#cv" transform="translate(329,65)"/><text x="88" y="30" class="n">User Name</text><text x="88" y="53" class="inv">Hey there! My name is Joanna and I</text><text x="88" y="67" class="inv">would like to invite you into my new</text><text x="88" y="81" class="inv">challenge!</text><text x="88" y="106" style="font-size:14px;fill:#2d4f8e">Accept</text><text x="160" y="106" style="font-size:14px;fill:#c3c7d1">Decline</text></g>
<use href="#hi" transform="translate(187.500,832)"/>
</svg>

<!-- FAQ -->
<svg x="2952.500" y="1476" width="187.500" height="421" viewBox="0 0 375 842">
<rect width="375" height="842" fill="#f5f7fb"/><rect width="375" height="88" fill="#fff"/><use href="#hd"/>
<text x="181" y="61" class="T">FAQ</text>
<rect x="16" y="113" width="343" height="122" rx="14" fill="#fff"/>
<text x="31" y="144" class="fq">Which app or devices are</text><text x="31" y="173" class="fq">compatible and sync with</text><text x="31" y="202" class="fq">Gamify Wellness?</text>
<path d="M321 166L333 178L345 166" stroke="#9a9a9e" stroke-width="2.600" fill="none"/>
<text x="16" y="259" class="fg">We currently support 8 apps and devices, which are also the</text><text x="16" y="279" class="fg">most popular. If there is an app or device we don't support</text><text x="16" y="299" class="fg">that you are using please let us know!</text>
<rect x="16" y="333" width="343" height="90" rx="14" fill="#fff"/>
<text x="31" y="364" class="fq">How does it work? How do I start</text><text x="31" y="393" class="fq">collecting points?</text><use href="#cv" transform="translate(335,379)"/>
<rect x="16" y="439" width="343" height="121" rx="14" fill="#fff"/>
<text x="31" y="469" class="fq">What if I don't use/have a health</text><text x="31" y="498" class="fq">device or app? Can I still use</text><text x="31" y="527" class="fq">Gamify Wellness?</text><use href="#cv" transform="translate(335,499)"/>
<use href="#hi" transform="translate(187.500,832)"/>
</svg>
</svg>
</body>
</html>
